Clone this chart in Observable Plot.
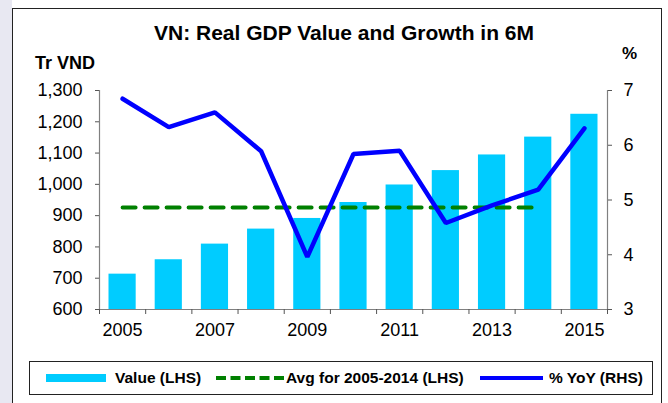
<!DOCTYPE html>
<html>
<head>
<meta charset="utf-8">
<script src="https://cdn.jsdelivr.net/npm/d3@7"></script>
<script src="https://cdn.jsdelivr.net/npm/@observablehq/plot@0.6"></script>
<style>
  html, body { margin: 0; padding: 0; background: #ffffff; }
  #wrap { position: relative; width: 668px; height: 403px; overflow: hidden; font-family: "Liberation Sans", Arial, sans-serif; color: #000; }
  #strip { position: absolute; left: 0; top: 0; width: 12px; height: 403px; background: #E8E8F2; }
  #frame { position: absolute; left: 12px; top: 8px; width: 648px; height: 420px; border: 1.5px solid #222; }
  #chart { position: absolute; left: 0; top: 0; }
  .txt { position: absolute; white-space: nowrap; font-weight: bold; line-height: 1; }
  #title { left: 344px; top: 21.5px; font-size: 21px; transform: translateX(-50%); }
  #lunit { left: 35px; top: 54px; font-size: 18px; }
  #runit { left: 622px; top: 45px; font-size: 17px; }
  #legend { position: absolute; left: 29px; top: 361px; width: 622px; height: 32px; border: 1px solid #222; background: #fff; }
  .leg { font-size: 15.5px; top: 370px; }
</style>
</head>
<body>
<div id="wrap">
  <div id="strip"></div>
  <div id="frame"></div>
  <div id="chart"></div>
  <div class="txt" id="title">VN: Real GDP Value and Growth in 6M</div>
  <div class="txt" id="lunit">Tr VND</div>
  <div class="txt" id="runit">%</div>
  <div id="legend"></div>
  <svg style="position:absolute;left:0;top:0" width="668" height="403">
    <rect x="46" y="374" width="60" height="8" fill="#00CCFF"></rect>
    <line x1="216" x2="284" y1="378" y2="378" stroke="#008000" stroke-width="4" stroke-dasharray="10,4.5"></line>
    <line x1="480" x2="543" y1="378" y2="378" stroke="#0000FF" stroke-width="4"></line>
  </svg>
  <div class="txt leg" style="left:115px">Value (LHS)</div>
  <div class="txt leg" style="left:286px">Avg for 2005-2014 (LHS)</div>
  <div class="txt leg" style="left:549px">% YoY (RHS)</div>
</div>
<script>
// ---- data ----
const years = [2005, 2006, 2007, 2008, 2009, 2010, 2011, 2012, 2013, 2014, 2015];
const values = [713, 759, 809, 857, 891, 942, 998, 1044, 1094, 1151, 1224];      // Tr VND (LHS)
const growth = [6.85, 6.33, 6.60, 5.89, 3.96, 5.84, 5.90, 4.58, 4.90, 5.19, 6.31]; // % YoY (RHS)
const avgValue = 926;                                   // Avg for 2005-2014 (LHS)
const avgYears = [2005, 2006, 2007, 2008, 2009, 2010, 2011, 2012, 2013, 2014];
const leftTicks = [600, 700, 800, 900, 1000, 1100, 1200, 1300];
const rightTicks = [3, 4, 5, 6, 7];
const xLabelYears = [2005, 2007, 2009, 2011, 2013, 2015];

// ---- scales / mapping ----
const leftDomain = [600, 1300];
const rightDomain = [3, 7];
const k = (leftDomain[1] - leftDomain[0]) / (rightDomain[1] - rightDomain[0]);
const toLeft = p => leftDomain[0] + (p - rightDomain[0]) * k;
const fromLeft = v => rightDomain[0] + (v - leftDomain[0]) / k;

const bars = years.map((year, i) => ({year, value: values[i]}));
const yoy = years.map((year, i) => ({year, g: growth[i]}));
const xDomain = [years[0] - 0.5, years[years.length - 1] + 0.5];
const boundaries = years.map(y => y - 0.5).concat([xDomain[1]]);

const plot = Plot.plot({
  width: 668,
  height: 403,
  marginLeft: 99,
  marginRight: 61,
  marginTop: 90,
  marginBottom: 94,
  style: {fontFamily: "'Liberation Sans', Arial, sans-serif", fontSize: "18px", background: "transparent", color: "#000"},
  x: {type: "linear", domain: xDomain},
  y: {domain: leftDomain},
  marks: [
    Plot.rectY(bars, {x1: d => d.year - 0.5, x2: d => d.year + 0.5, y1: leftDomain[0], y2: "value", fill: "#00CCFF", insetLeft: 9.5, insetRight: 9.5}),
    Plot.lineY(avgYears, {x: d => d, y: () => avgValue, stroke: "#008000", strokeWidth: 4, strokeDasharray: "13,9"}),
    Plot.line(yoy, {x: "year", y: d => toLeft(d.g), stroke: "#0000FF", strokeWidth: 4.5, strokeLinejoin: "miter", strokeLinecap: "round"}),
    Plot.ruleX(xDomain, {stroke: "#808080", strokeWidth: 1.2}),
    Plot.ruleY([leftDomain[0]], {stroke: "#808080", strokeWidth: 1.2}),
    Plot.axisY({anchor: "left", ticks: leftTicks, tickFormat: d3.format(","), tickSize: 4, tickPadding: 13, label: null, stroke: "#555", fill: "#000"}),
    Plot.axisY({anchor: "right", ticks: rightTicks.map(toLeft), tickFormat: v => String(Math.round(fromLeft(v))), tickSize: 4, tickPadding: 12, label: null, stroke: "#555", fill: "#000"}),
    Plot.axisX({anchor: "bottom", ticks: xLabelYears, tickFormat: d => String(d), tickSize: 0, tickPadding: 14, label: null, fill: "#000"}),
    Plot.axisX({anchor: "bottom", ticks: boundaries, tickFormat: () => "", tickSize: 5, label: null, stroke: "#555"})
  ]
});
document.getElementById("chart").appendChild(plot);
</script>
</body>
</html>
